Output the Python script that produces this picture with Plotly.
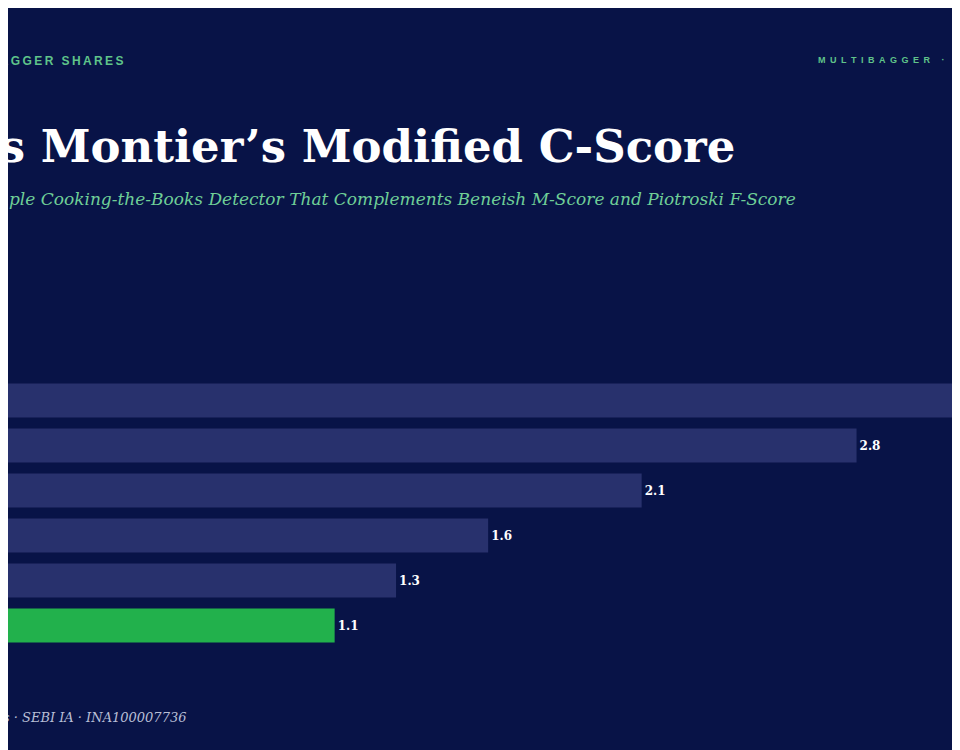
import plotly.graph_objects as go

categories = ["Signal A", "Signal B", "Signal C", "Signal D", "Signal E", "Signal F"]
values = [3.4, 2.8, 2.1, 1.6, 1.3, 1.1]
labels = ["3.4", "2.8", "2.1", "1.6", "1.3", "1.1"]
colors = ["#28316d"] * 5 + ["#22b14c"]

fig = go.Figure(go.Bar(
    y=categories, x=values, orientation="h", marker=dict(color=colors, line=dict(width=0)),
    width=0.76, text=["<b>%s</b>" % s for s in labels], textposition="outside", cliponaxis=True,
    textfont=dict(family="DejaVu Serif", size=12, color="#ffffff"),
))

def sp(s, sep="\u2009"):
    return sep.join(list(s))

W, H = 960, 750
OFF = 8
def px(x): return (x - OFF) / W
def py(y): return 1 - (y - 378) / 270

ann = [
    dict(text="<b>" + sp("MULTIBAGGER SHARES") + "</b>", x=px(126), y=py(61), xanchor="right",
         font=dict(family="Liberation Sans", size=12, color="#5fc48a")),
    dict(text="<b>" + sp("MULTIBAGGER · DEEP DIVE", "\u2002") + "</b>", x=px(816), y=py(60), xanchor="left",
         font=dict(family="Liberation Sans", size=9, color="#5fc48a")),
    dict(text="<b>James Montier’s Modified C-Score</b>", x=px(737), y=py(146), xanchor="right",
         font=dict(family="DejaVu Serif", size=45, color="#ffffff")),
    dict(text="<i>A Simple Cooking-the-Books Detector That Complements Beneish M-Score and Piotroski F-Score</i>",
         x=px(798), y=py(199), xanchor="right",
         font=dict(family="DejaVu Serif", size=17, color="#6fcf97")),
    dict(text="<i>Multibagger Shares · SEBI IA · INA100007736</i>", x=px(188), y=py(717), xanchor="right",
         font=dict(family="DejaVu Serif", size=13, color="#b8bfd6")),
]
for a in ann:
    a.update(xref="paper", yref="paper", yanchor="middle", showarrow=False)

fig.update_layout(
    width=W, height=H, margin=dict(l=0, r=0, t=370, b=110),
    paper_bgcolor="#081347", plot_bgcolor="rgba(0,0,0,0)",
    xaxis=dict(range=[0.036, 3.163], visible=False, fixedrange=True),
    yaxis=dict(autorange=False, range=[5.5, -0.5], visible=False, categoryorder="array", categoryarray=categories),
    showlegend=False, annotations=ann, bargap=0.24,
)
fig.write_html("out.html")
